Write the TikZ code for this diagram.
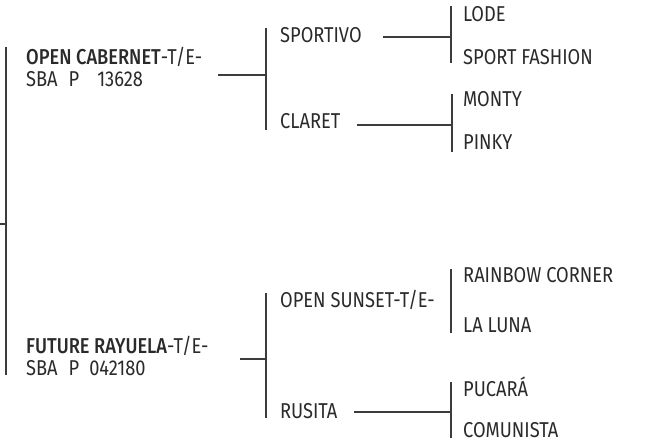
\documentclass[tikz,border=0pt]{standalone}
\usepackage{fontspec}
\setmainfont{Fira Sans}[FakeStretch=0.85,BoldFont={Fira Sans Medium},BoldFeatures={FakeStretch=0.85}]
\definecolor{txt}{HTML}{2A2A2A}
\definecolor{ln}{HTML}{3C3C3C}
\begin{document}
\begin{tikzpicture}[x=1pt,y=-1pt,
  lbl/.style={anchor=base west,inner sep=0pt,text=txt,font=\fontsize{21.5}{22}\selectfont},
  conn/.style={draw=ln,line width=1.2pt}]
\useasboundingbox (0,0) rectangle (648,443);
% labels
\node[lbl] (oc1) at (26,65) {\textbf{OPEN CABERNET}-T/E-};
\node[lbl] (oc2) at (26,87) {SBA\hspace{11pt}P\hspace{18pt}13628};
\node[lbl] (fr1) at (26,354) {\textbf{FUTURE RAYUELA}-T/E-};
\node[lbl] (fr2) at (26,376) {SBA\hspace{11pt}P\hspace{10pt}042180};
\node[lbl] (sp) at (280,43) {SPORTIVO};
\node[lbl] (cl) at (280,129) {CLARET};
\node[lbl] (os) at (280,308) {OPEN SUNSET-T/E-};
\node[lbl] (ru) at (280,418) {RUSITA};
\node[lbl] (lo) at (463,22) {LODE};
\node[lbl] (sf) at (463,65) {SPORT FASHION};
\node[lbl] (mo) at (463,107) {MONTY};
\node[lbl] (pi) at (463,150) {PINKY};
\node[lbl] (rc) at (463,283) {RAINBOW CORNER};
\node[lbl] (ll) at (463,333) {LA LUNA};
\node[lbl] (pu) at (463,397) {PUCARÁ};
\node[lbl] (co) at (463,438) {COMUNISTA};
% coordinates
\coordinate (rt) at (6,47);
\coordinate (rb) at (6,375);
\coordinate (rs) at (0,224);
\coordinate (rm) at (6,224);
\coordinate (ocs) at (218,75);
\coordinate (ocm) at (266,75);
\coordinate (oct) at (266,28);
\coordinate (ocb) at (266,130);
\coordinate (frs) at (240,359);
\coordinate (frm) at (266,359);
\coordinate (frt) at (266,293);
\coordinate (frb) at (266,418);
\coordinate (sps) at (383,37);
\coordinate (spm) at (451,37);
\coordinate (spt) at (451,6);
\coordinate (spb) at (451,63);
\coordinate (cls) at (357,125);
\coordinate (clm) at (452,125);
\coordinate (clt) at (452,94);
\coordinate (clb) at (452,152);
\coordinate (ost) at (451,269);
\coordinate (osb) at (451,333);
\coordinate (rus) at (354,412);
\coordinate (rum) at (451,412);
\coordinate (rut) at (451,382);
\coordinate (rub) at (451,438);
% connectors
\draw[conn] (rt) -- (rb);
\draw[conn] (rs) -- (rm);
\draw[conn] (ocs) -- (ocm);
\draw[conn] (oct) -- (ocb);
\draw[conn] (frs) -- (frm);
\draw[conn] (frt) -- (frb);
\draw[conn] (sps) -- (spm);
\draw[conn] (spt) -- (spb);
\draw[conn] (cls) -- (clm);
\draw[conn] (clt) -- (clb);
\draw[conn] (ost) -- (osb);
\draw[conn] (rus) -- (rum);
\draw[conn] (rut) -- (rub);
\end{tikzpicture}
\end{document}
